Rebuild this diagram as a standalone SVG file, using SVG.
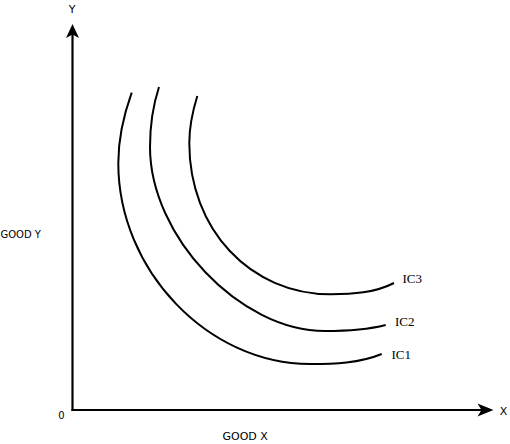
<svg xmlns="http://www.w3.org/2000/svg" width="510" height="444" viewBox="0 0 510 444">
<style>
.axis{stroke:#000;stroke-width:2.2;fill:none}
.head{fill:#000;stroke:none}
.ic{stroke:#000;stroke-width:2;fill:none}
.sans{font-family:"DejaVu Sans",Verdana,sans-serif;fill:#000}
.serif{font-family:"Liberation Serif","Times New Roman",serif;fill:#000;font-size:13px}
</style>
<rect width="510" height="444" fill="#fff"/>
<g id="connectors">
<g id="y-axis">
<line class="axis" x1="72.5" y1="411" x2="72.5" y2="34"/>
<polygon class="head" points="72.5,24 66,38 72.5,34.5 79,38"/>
</g>
<g id="x-axis">
<line class="axis" x1="71.5" y1="410" x2="482" y2="410"/>
<polygon class="head" points="493.5,410 477.5,403.5 481.5,410 477.5,416.5"/>
</g>
</g>
<g id="ic1">
<path class="ic" d="M131.7,92.7 C123.6,115.3 118.3,138.9 118.3,163 C118.3,270.1 207.8,364 310,364 C334.1,364 359.3,363.2 381.7,354"/>
<text class="serif" x="391.5" y="359.3">IC1</text>
</g>
<g id="ic2">
<path class="ic" d="M159,87 C152.7,106.3 150,126.6 150,147 C150,236.4 240,331 325,331 C344.9,331 366.2,330 385.7,325"/>
<text class="serif" x="395" y="326">IC2</text>
</g>
<g id="ic3">
<path class="ic" d="M197.3,96 C192.6,111.2 189.3,127 189.3,143 C189.3,229.4 250.1,294.3 331,294.3 C352.3,294.3 374.8,292.9 394,283"/>
<text class="serif" x="402.5" y="282.7">IC3</text>
</g>
<g id="labels">
<text class="sans" font-size="11" x="72" y="13" text-anchor="middle">Y</text>
<text class="sans" font-size="11" x="503.5" y="415" text-anchor="middle">X</text>
<text class="sans" font-size="10" x="61.5" y="419.3" text-anchor="middle">0</text>
<text class="sans" font-size="10" x="0.5" y="237.5">GOOD Y</text>
<text class="sans" font-size="11" x="222.5" y="440">GOOD X</text>
</g>
</svg>
